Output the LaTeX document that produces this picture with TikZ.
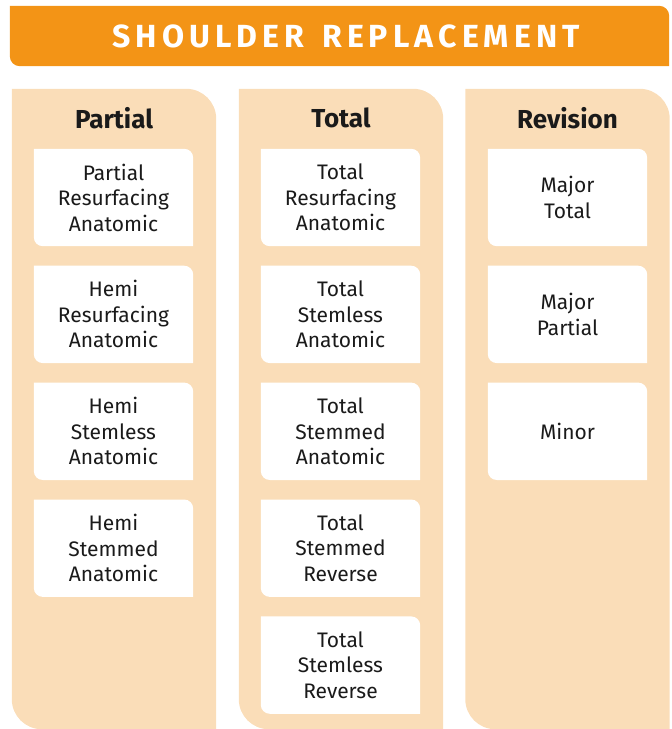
\documentclass[tikz,border=0pt]{standalone}
\usepackage{fontspec}
\setmainfont{Fira Sans}
\newfontfamily\titlefont[LetterSpace=16, WordSpace=1.4]{Fira Sans}
\usetikzlibrary{positioning, backgrounds}
\definecolor{headorange}{HTML}{F39416}
\definecolor{colpeach}{HTML}{FADDB8}
\definecolor{textdark}{HTML}{1A1A1A}
\tikzstyle{band} = [minimum width=659pt, minimum height=60pt, inner sep=0pt]
\tikzstyle{header} = [text=white, font=\titlefont\bfseries\fontsize{32}{36}\selectfont]
\tikzstyle{column} = [minimum width=204pt, minimum height=640pt, inner sep=0pt]
\tikzstyle{colhead} = [text=textdark, font=\bfseries\fontsize{26}{30}\selectfont]
\tikzstyle{item} = [minimum width=159pt, minimum height=97pt, inner sep=0pt,
align=center, text=textdark, font=\fontsize{21}{25.5}\selectfont]
% fill a node with rounded top-left and bottom-right corners
\newcommand{\leaf}[3]{\fill[#1] (#3.west) -- (#3.north west) [rounded corners=#2]
  -- (#3.north east) [sharp corners] -- (#3.south east) [rounded corners=#2]
  -- (#3.south west) [sharp corners] -- cycle;}

\begin{document}
\begin{tikzpicture}[x=1pt, y=-1pt, node distance=19.5pt]
\useasboundingbox (0,0) rectangle (672,729);

% Header
\node[band] (band) at (339.5,36) {};
\node[header] (title) at (346,36) {SHOULDER REPLACEMENT};

% Columns
\node[column] (partialcol) at (114,409) {};
\node[column] (totalcol) at (341,409) {};
\node[column] (revisioncol) at (567.5,409) {};
\node[colhead] (partialhead) at (114,118) {Partial};
\node[colhead] (totalhead) at (341,118) {Total};
\node[colhead] (revisionhead) at (567.5,118) {Revision};

% Partial
\node[item] (p1) at (113.5,197.5) {Partial\\Resurfacing\\Anatomic};
\node[item, below=of p1] (p2) {Hemi\\Resurfacing\\Anatomic};
\node[item, below=of p2] (p3) {Hemi\\Stemless\\Anatomic};
\node[item, below=of p3] (p4) {Hemi\\Stemmed\\Anatomic};

% Total
\node[item] (t1) at (340.5,197.5) {Total\\Resurfacing\\Anatomic};
\node[item, below=of t1] (t2) {Total\\Stemless\\Anatomic};
\node[item, below=of t2] (t3) {Total\\Stemmed\\Anatomic};
\node[item, below=of t3] (t4) {Total\\Stemmed\\Reverse};
\node[item, below=of t4] (t5) {Total\\Stemless\\Reverse};

% Revision
\node[item] (r1) at (567.5,197.5) {Major\\Total};
\node[item, below=of r1] (r2) {Major\\Partial};
\node[item, below=of r2] (r3) {Minor};

% Fills
\begin{pgfonlayer}{background}
\leaf{headorange}{10pt}{band}
\foreach \c in {partialcol, totalcol, revisioncol}
  {\leaf{colpeach}{30pt}{\c}}
\foreach \b in {p1, p2, p3, p4, t1, t2, t3, t4, t5, r1, r2, r3}
  {\leaf{white}{9pt}{\b}}
\end{pgfonlayer}

\end{tikzpicture}
\end{document}
